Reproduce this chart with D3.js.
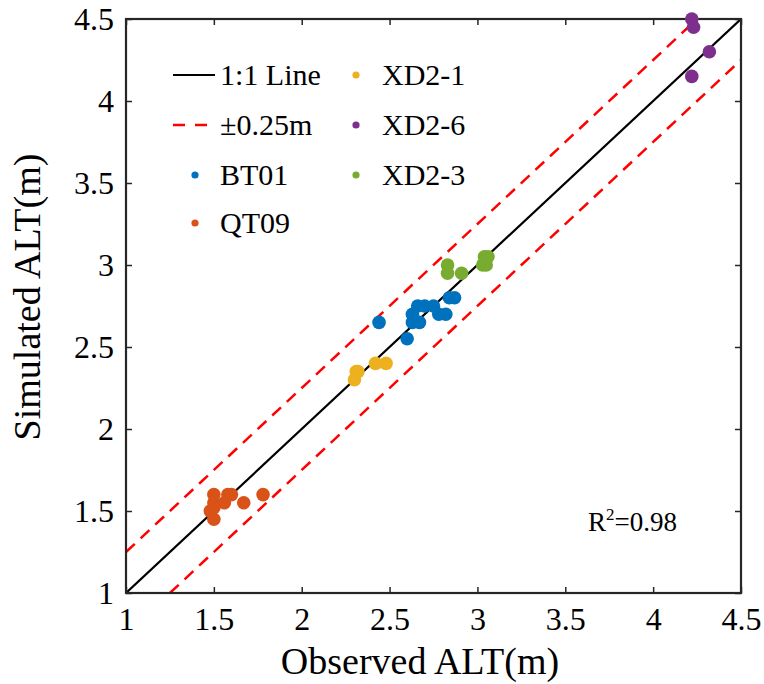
<!DOCTYPE html>
<html><head><meta charset="utf-8">
<script src="https://cdn.jsdelivr.net/npm/d3@7"></script>
<style>body{margin:0;background:#fff}svg{display:block}text{font-family:"Liberation Serif","Times New Roman",serif;fill:#000}</style>
</head><body><svg id="c" width="764" height="684"></svg>
<script>
const ticks = [1, 1.5, 2, 2.5, 3, 3.5, 4, 4.5];
const tickLabels = ["1", "1.5", "2", "2.5", "3", "3.5", "4", "4.5"];
const seriesNames = ["BT01", "QT09", "XD2-1", "XD2-6", "XD2-3"];
const seriesColors = ["#0072BD", "#D95319", "#EDB120", "#7E2F8E", "#77AC30"];
const BT01 = [[2.44,2.65],[2.6,2.55],[2.63,2.7],[2.63,2.65],[2.67,2.65],[2.66,2.75],[2.7,2.75],[2.75,2.75],[2.78,2.7],[2.82,2.7],[2.84,2.8],[2.87,2.8]];
const QT09 = [[1.5,1.6],[1.5,1.55],[1.48,1.5],[1.5,1.45],[1.58,1.6],[1.6,1.6],[1.56,1.55],[1.67,1.55],[1.78,1.6],[1.5,1.52]];
const XD2_1 = [[2.3,2.3],[2.31,2.35],[2.32,2.35],[2.42,2.4],[2.48,2.4]];
const XD2_6 = [[4.22,4.5],[4.23,4.45],[4.32,4.3],[4.22,4.15]];
const XD2_3 = [[2.83,3.0],[2.83,2.95],[2.91,2.95],[3.03,3.0],[3.05,3.0],[3.04,3.05],[3.06,3.05]];
const seriesData = [BT01, QT09, XD2_1, XD2_6, XD2_3];
const offset = 0.25;
const r2Text = "0.98";

(function(){
const FF = "'Liberation Serif','Times New Roman',serif";
const svg = d3.select("#c");
const L = 126, R = 741, T = 19, B = 593;
const x = d3.scaleLinear().domain([1, 4.5]).range([L, R]);
const y = d3.scaleLinear().domain([1, 4.5]).range([B, T]);

svg.append("defs").append("clipPath").attr("id","clip")
  .append("rect").attr("x",L).attr("y",T).attr("width",R-L).attr("height",B-T);

const g = svg.append("g").attr("clip-path","url(#clip)");
const line = d3.line().x(d=>x(d[0])).y(d=>y(d[1]));
g.append("path").attr("d", line([[1,1],[4.5,4.5]])).attr("stroke","#000").attr("stroke-width",2.2).attr("fill","none");
g.append("path").attr("d", line([[1,1+offset],[4.5-offset,4.5]])).attr("stroke","#FF0000").attr("stroke-width",2.5).attr("stroke-dasharray","12,8").attr("fill","none");
g.append("path").attr("d", line([[1+offset,1],[4.5,4.5-offset]])).attr("stroke","#FF0000").attr("stroke-width",2.5).attr("stroke-dasharray","12,8").attr("fill","none");

const axCol = "#262626";
const axB = svg.append("g").attr("transform",`translate(0,${B})`)
  .call(d3.axisBottom(x).tickValues(ticks).tickFormat((d,i)=>tickLabels[i]).tickSizeInner(-6).tickSizeOuter(0).tickPadding(14));
const axL = svg.append("g").attr("transform",`translate(${L},0)`)
  .call(d3.axisLeft(y).tickValues(ticks).tickFormat((d,i)=>tickLabels[i]).tickSizeInner(-6).tickSizeOuter(0).tickPadding(12));
const axT = svg.append("g").attr("transform",`translate(0,${T})`)
  .call(d3.axisTop(x).tickValues(ticks).tickFormat("").tickSizeInner(-6).tickSizeOuter(0));
const axR = svg.append("g").attr("transform",`translate(${R},0)`)
  .call(d3.axisRight(y).tickValues(ticks).tickFormat("").tickSizeInner(-6).tickSizeOuter(0));
[axB,axL,axT,axR].forEach(a=>{
  a.attr("font-family",null).attr("font-size",null);
  a.select(".domain").remove();
  a.selectAll(".tick line").attr("stroke",axCol).attr("stroke-width",1.5);
  a.selectAll(".tick text").style("font-family",FF).style("font-size","32px").attr("fill","#000");
});
axB.selectAll(".tick text").attr("dy","0.71em");
axL.selectAll(".tick text").attr("dy","0.34em");
svg.append("rect").attr("x",L).attr("y",T).attr("width",R-L).attr("height",B-T)
  .attr("fill","none").attr("stroke",axCol).attr("stroke-width",2.2);

seriesData.forEach((arr,i)=>{
  svg.append("g").selectAll("circle").data(arr).join("circle")
    .attr("cx",d=>x(d[0])).attr("cy",d=>y(d[1])).attr("r",6.8).attr("fill",seriesColors[i]);
});

svg.append("text").attr("x",420).attr("y",674).attr("text-anchor","middle").style("font-family",FF).style("font-size","38px").text("Observed ALT(m)");
svg.append("text").attr("transform",`translate(40,297) rotate(-90)`).attr("text-anchor","middle").style("font-family",FF).style("font-size","38px").text("Simulated ALT(m)");

const rt = svg.append("text").attr("x",588).attr("y",531).style("font-family",FF).style("font-size","27px");
rt.append("tspan").text("R");
rt.append("tspan").style("font-size","17px").attr("dy",-11).text("2");
rt.append("tspan").attr("dy",11).text("=" + r2Text);

const lg = svg.append("g");
const rowY = [75,125,175,223];
lg.append("line").attr("x1",173).attr("x2",215).attr("y1",rowY[0]).attr("y2",rowY[0]).attr("stroke","#000").attr("stroke-width",2.2);
lg.append("line").attr("x1",173).attr("x2",215).attr("y1",rowY[1]).attr("y2",rowY[1]).attr("stroke","#FF0000").attr("stroke-width",2.5).attr("stroke-dasharray","12,10");
lg.append("text").attr("x",220).attr("y",rowY[0]).attr("dy","0.34em").style("font-family",FF).style("font-size","30px").text("1:1 Line");
lg.append("text").attr("x",220).attr("y",rowY[1]).attr("dy","0.34em").style("font-family",FF).style("font-size","30px").text("±0.25m");
const legPos = [[195,rowY[2]],[195,rowY[3]],[356,rowY[0]],[356,rowY[1]],[356,rowY[2]]];
seriesNames.forEach((n,i)=>{
  const [px,py] = legPos[i];
  lg.append("circle").attr("cx",px).attr("cy",py).attr("r",3.6).attr("fill",seriesColors[i]);
  lg.append("text").attr("x",px+(i<2?25:26)).attr("y",py).attr("dy","0.34em").style("font-family",FF).style("font-size","30px").text(n);
});
})();
</script></body></html>
